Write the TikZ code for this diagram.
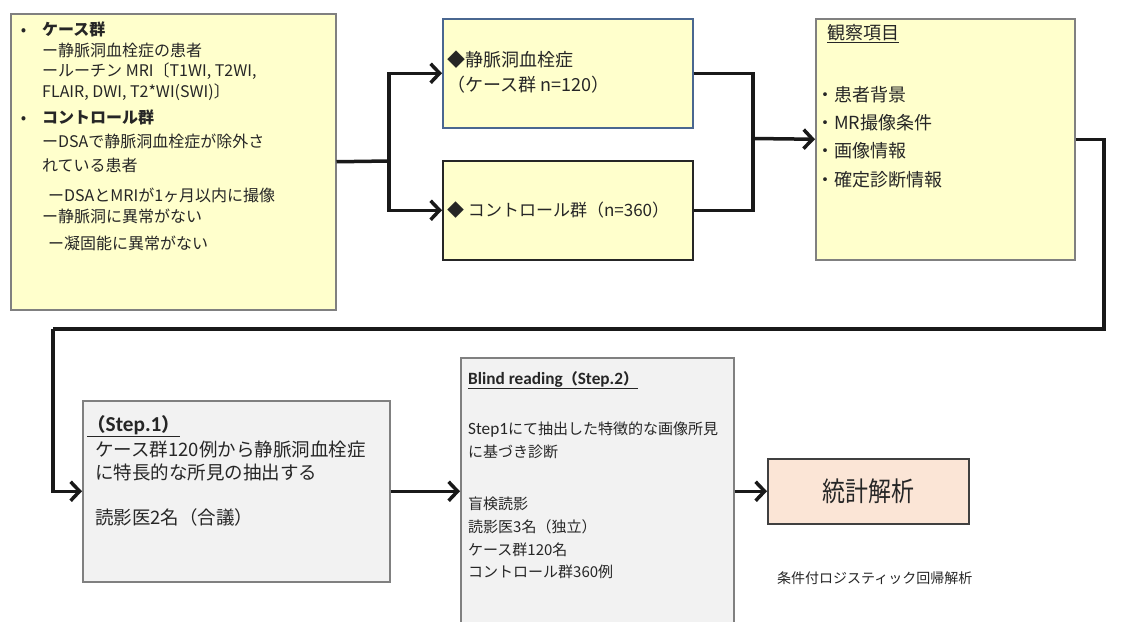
\documentclass[tikz,border=0pt]{standalone}
\usepackage{fontspec}
\setmainfont{Noto Sans CJK JP}
\newfontfamily\latf[Scale=1.15]{Carlito}
\usetikzlibrary{arrows.meta}
\definecolor{yel}{HTML}{FFFFCC}
\definecolor{gry}{HTML}{F2F2F2}
\definecolor{peach}{HTML}{FBE5D6}
\definecolor{edge}{HTML}{808080}
\definecolor{blueedge}{HTML}{4A6790}
\definecolor{txtc}{HTML}{262626}
\tikzset{
  boxnode/.style={draw=edge, line width=1.5pt, inner sep=0pt, anchor=north west},
  txt/.style={inner sep=0pt, text=txtc, align=left, anchor=north west},
  conn/.style={line width=3.5pt, draw=black!90, line join=miter},
  arr/.style={conn, -{Straight Barb[length=9pt,width=19pt,line width=3.5pt]}}
}
\begin{document}
\begin{tikzpicture}[x=1pt,y=-1pt]
\useasboundingbox (0,0) rectangle (1126,621);
\fill[white] (0,0) rectangle (1126,621);
% boxes
\node[boxnode, fill=yel, minimum width=325pt, minimum height=296pt] (left) at (10,13) {};
\node[boxnode, fill=yel, draw=blueedge, minimum width=250pt, minimum height=109pt] (case) at (442,18) {};
\node[boxnode, fill=yel, draw=black!85, minimum width=250pt, minimum height=99pt] (ctrl) at (442,160) {};
\node[boxnode, fill=yel, minimum width=259pt, minimum height=241pt] (obs) at (815,18) {};
\node[boxnode, fill=gry, minimum width=307pt, minimum height=181pt] (step1) at (82,400) {};
\begin{scope}
\clip (0,0) rectangle (1126,621);
\node[boxnode, fill=gry, minimum width=273pt, minimum height=280pt] (blind) at (460,357) {};
\end{scope}
\node[boxnode, fill=peach, draw=black!75, minimum width=201pt, minimum height=65pt] (stats) at (767,458) {};
% texts
\node[txt, font=\fontsize{16}{20.5}\selectfont] (lefttxt) at (42,22) {%
\llap{•\hspace{16pt}}\textbf{ケース群}\\
ー静脈洞血栓症の患者\\
ールーチン MRI〔T1WI, T2WI,\\
FLAIR, DWI, T2*WI(SWI)〕\\[6pt]
\llap{•\hspace{16pt}}\textbf{コントロール群}\\[3.5pt]
ーDSAで静脈洞血栓症が除外さ\\[3.5pt]
れている患者\\[9.5pt]
\hspace{6pt}ーDSAとMRIが1ヶ月以内に撮像\\
ー静脈洞に異常がない\\[6.5pt]
\hspace{6pt}ー凝固能に異常がない};
\node[txt, font=\fontsize{18}{25}\selectfont] (casetxt) at (447,51) {%
◆静脈洞血栓症\\
（ケース群 n=120）};
\node[txt, anchor=west, font=\fontsize{17}{20}\selectfont] (ctrltxt) at (447,210) {◆ コントロール群（n=360）};
\node[txt, font=\fontsize{18}{28.3}\selectfont] (obstxt) at (816,24) {%
\hspace{11pt}\underline{観察項目}\\[33.5pt]
・患者背景\\
・MR撮像条件\\
・画像情報\\
・確定診断情報};
\node[txt, font=\fontsize{18.5}{23.5}\selectfont] (step1txt) at (95,415) {%
\hspace{-8pt}\textbf{\underline{（{\latf Step.1}）}}\\[1.5pt]
ケース群120例から静脈洞血栓症\\
に特長的な所見の抽出する\\[21.5pt]
読影医2名（合議）};
\node[txt, font=\fontsize{15}{22.7}\selectfont] (blindtxt) at (468,371) {%
\textbf{\underline{{\latf Blind reading}（{\latf Step.2}）}}\\[28pt]
{\latf Step1}にて抽出した特徴的な画像所見\\
に基づき診断\\[29.5pt]
盲検読影\\
読影医3名（独立）\\
ケース群120名\\
コントロール群360例};
\node[inner sep=0pt, text=txtc] (statstxt) at (stats.center) {\scalebox{0.85}[1]{\fontsize{27}{30}\selectfont 統計解析}};
\node[txt, anchor=west, font=\fontsize{14}{16}\selectfont] (logit) at (777,578) {条件付ロジスティック回帰解析};
% connectors
\coordinate (j1) at (389,161);
\coordinate (j2) at (753,138.5);
\coordinate (c1) at (1104,329);
\coordinate (c2) at (53,329);
\draw[conn] (left.east) -- (j1);
\draw[arr] (j1) |- (case.west);
\draw[arr] (j1) |- (ctrl.west);
\draw[conn] (case.east) -| (j2);
\draw[conn] (ctrl.east) -| (j2);
\draw[arr] (j2) -- (obs.west);
\draw[conn] (obs.east) -| (c1) -- (c2);
\draw[arr] (c2) |- (step1.west);
\draw[arr] (step1.east) -- (blind.west |- step1.east);
\draw[arr] (blind.east |- stats.west) -- (stats.west);
\end{tikzpicture}
\end{document}
